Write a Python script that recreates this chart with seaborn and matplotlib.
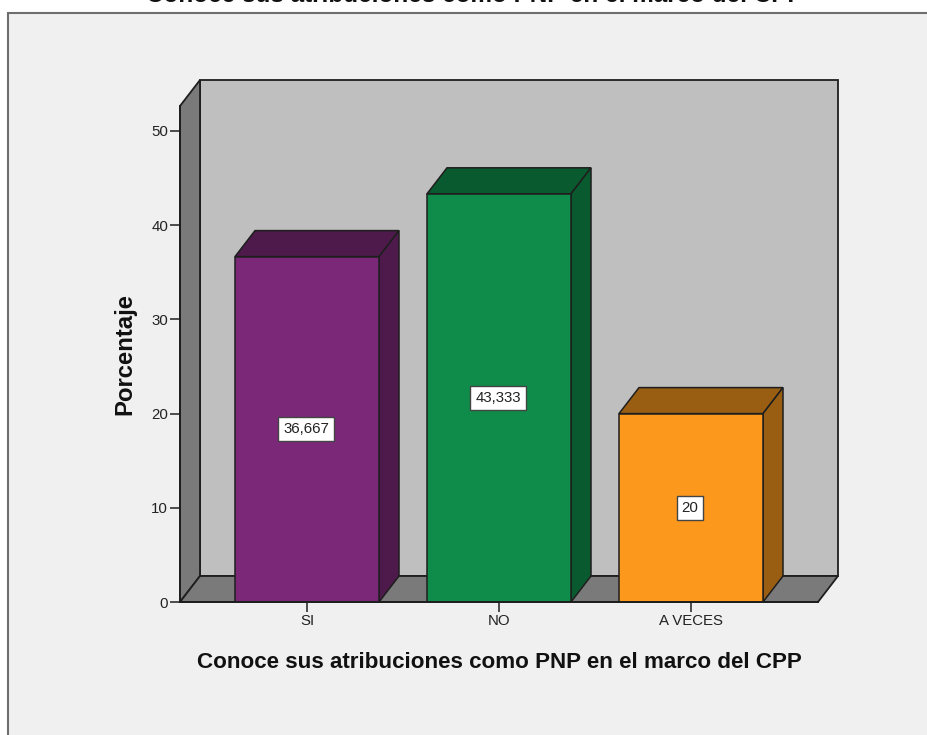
import matplotlib
matplotlib.use("Agg")
import matplotlib.pyplot as plt
from matplotlib.patches import Polygon, Rectangle
import pandas as pd
import seaborn as sns

categories = ["SI", "NO", "A VECES"]
values = [36.667, 43.333, 20]
face_colors = ["#7B2878", "#0F8C49", "#FC981C"]
shade_colors = ["#4D1A4B", "#0A5A2F", "#9A5E12"]
y_ticks = [0, 10, 20, 30, 40, 50]
title_text = "Conoce sus atribuciones como PNP en el marco del CPP"
y_title = "Porcentaje"

sns.set_style("white")
plt.rcParams["font.family"] = ["Liberation Sans", "DejaVu Sans"]

W, H = 928, 735
fig = plt.figure(figsize=(W / 100, H / 100), dpi=100, facecolor="white")
fig.add_artist(Rectangle((8.5 / W, -0.1), 1.1, (H - 12.5) / H + 0.1, transform=fig.transFigure,
                         facecolor="#F0F0F0", edgecolor="#6E6E6E", linewidth=1.5, zorder=-1))

# plot box in pixels: left wall front edge to back wall right edge
px_left, px_right, px_bottom, px_top = 180, 838, 602, 80
ax = fig.add_axes([px_left / W, (H - px_bottom) / H, (px_right - px_left) / W, (px_bottom - px_top) / H])
ax.patch.set_alpha(0)

df = pd.DataFrame({"cat": categories, "val": values})
sns.barplot(data=df, x="cat", y="val", hue="cat", palette=face_colors, legend=False,
            width=0.75, saturation=1, edgecolor="#1E1E1E", linewidth=1.1, ax=ax, zorder=5)
bars = sorted([p for p in ax.patches if p.get_height() > 0], key=lambda p: p.get_x())

unit_x = 192.0
unit_y = 9.42
ax.set_xlim(-(307 - px_left) / unit_x, (px_right - 307) / unit_x)
ax.set_ylim(0, (px_bottom - px_top) / unit_y)
dx = 20 / unit_x
dy = 26 / unit_y
xmin, xmax = ax.get_xlim()
ymax = ax.get_ylim()[1]
line = "#1E1E1E"

# back wall, side wall and floor
ax.add_patch(Polygon([(xmin + dx, dy), (xmax, dy), (xmax, ymax), (xmin + dx, ymax)],
                     facecolor="#BFBFBF", edgecolor=line, lw=1.3, zorder=1, clip_on=False))
ax.add_patch(Polygon([(xmin, 0), (xmin + dx, dy), (xmin + dx, ymax), (xmin, ymax - dy)],
                     facecolor="#7A7A7A", edgecolor=line, lw=1.3, zorder=2, clip_on=False))
ax.add_patch(Polygon([(xmin, 0), (xmin + dx, dy), (xmax, dy), (xmax - dx, 0)],
                     facecolor="#7A7A7A", edgecolor=line, lw=1.3, zorder=2, clip_on=False))

# bar depth faces and value labels
labels = [f"{v:g}".replace(".", ",") for v in values]
for bar, shade, label in zip(bars, shade_colors, labels):
    x0, w, h = bar.get_x(), bar.get_width(), bar.get_height()
    ax.add_patch(Polygon([(x0, h), (x0 + dx, h + dy), (x0 + w + dx, h + dy), (x0 + w, h)],
                         facecolor=shade, edgecolor=line, lw=1.1, zorder=4, clip_on=False))
    ax.add_patch(Polygon([(x0 + w, 0), (x0 + w + dx, dy), (x0 + w + dx, h + dy), (x0 + w, h)],
                         facecolor=shade, edgecolor=line, lw=1.1, zorder=4, clip_on=False))
    ax.text(x0 + w / 2 - 0.005, h / 2, label, ha="center", va="center", fontsize=10.8, color="#222222", zorder=8,
            bbox=dict(boxstyle="square,pad=0.32", facecolor="white", edgecolor="#444444", linewidth=1))

for s in ["top", "right"]:
    ax.spines[s].set_visible(False)
ax.spines["left"].set_bounds(0, ymax - dy)
ax.spines["bottom"].set_bounds(xmin, xmax - dx)
for s in ["left", "bottom"]:
    ax.spines[s].set_color(line)
    ax.spines[s].set_linewidth(1.3)
    ax.spines[s].set_zorder(6)

ax.set_yticks(y_ticks)
ax.set_xticks(range(len(categories)))
ax.set_xticklabels(categories)
ax.tick_params(axis="both", left=True, bottom=True, length=7, width=1.1, color=line,
               labelsize=10.8, labelcolor="#222222", pad=1.5)
ax.set_xlabel("")
ax.set_ylabel("")

fig.text(499.5 / W, 1 - 663 / H, title_text, ha="center", va="center", fontsize=16.1,
         fontweight="bold", color="#111111")
fig.text(125 / W, 1 - 354 / H, y_title, ha="center", va="center", rotation=90, fontsize=17.2,
         fontweight="bold", color="#111111")
fig.text(475 / W, 1 + 5 / H, title_text, ha="center", va="center", fontsize=17.5,
         fontweight="bold", color="#111111")

fig.savefig("out.png", dpi=100, facecolor=fig.get_facecolor())
